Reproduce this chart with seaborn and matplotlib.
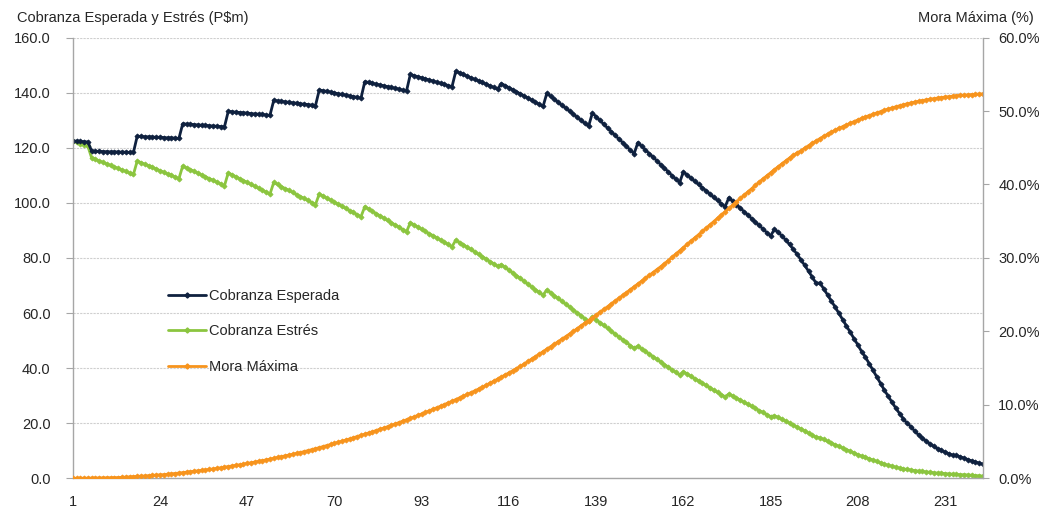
import pandas as pd
import matplotlib
matplotlib.use("Agg")
import matplotlib.pyplot as plt
import seaborn as sns
from matplotlib.lines import Line2D
from matplotlib.ticker import FuncFormatter

# --- DATOS ---
periodos = list(range(1, 242))

cobranza_esperada = [
    122.5, 122.4, 122.3, 122.2, 122.1,
    118.8, 118.7, 118.7, 118.6, 118.6, 118.5, 118.5, 118.5, 118.4, 118.4, 118.3, 118.3,
    124.2, 124.1, 124.0, 124.0, 123.9, 123.8, 123.8, 123.7, 123.6, 123.6, 123.5, 123.4,
    128.7, 128.6, 128.5, 128.4, 128.3, 128.2, 128.1, 128.0, 127.9, 127.8, 127.7, 127.6,
    133.2, 133.1, 132.9, 132.8, 132.7, 132.6, 132.4, 132.3, 132.2, 132.1, 131.9, 131.8,
    137.2, 137.0, 136.8, 136.7, 136.5, 136.3, 136.2, 136.0, 135.8, 135.7, 135.5, 135.3,
    141.0, 140.7, 140.5, 140.2, 139.9, 139.6, 139.4, 139.1, 138.8, 138.6, 138.3, 138.0,
    144.0, 143.7, 143.4, 143.1, 142.8, 142.5, 142.2, 141.9, 141.6, 141.3, 140.9, 140.6,
    146.6, 146.2, 145.8, 145.4, 145.0, 144.6, 144.2, 143.8, 143.4, 143.0, 142.6, 142.2,
    147.8, 147.2, 146.6, 146.0, 145.4, 144.8, 144.3, 143.7, 143.1, 142.5, 141.9, 141.3,
    143.3, 142.6, 141.8, 141.1, 140.3, 139.6, 138.8, 138.1, 137.3, 136.5, 135.8, 135.0,
    139.8, 138.7, 137.6, 136.5, 135.4, 134.4, 133.3, 132.2, 131.1, 130.0, 128.9, 127.8,
    132.6, 131.3, 129.9, 128.6, 127.2, 125.9, 124.5, 123.2, 121.9, 120.5, 119.2, 117.8,
    121.9, 120.6, 119.2, 117.9, 116.6, 115.3, 113.9, 112.6, 111.3, 109.9, 108.6, 107.3,
    111.3, 110.1, 109.0, 107.8, 106.7, 105.5, 104.4, 103.2, 102.0, 100.9, 99.7, 98.6,
    101.9, 100.6, 99.4, 98.1, 96.8, 95.6, 94.3, 93.0, 91.8, 90.5, 89.2, 88.0,
    90.4, 89.3, 88.0, 86.5, 84.9, 83.1, 81.3, 79.3, 77.3, 75.2, 73.0, 70.8,
    70.9, 68.8, 66.6, 64.4, 62.2, 59.9, 57.6, 55.3, 53.0, 50.7, 48.4, 46.0,
    44.0, 41.6, 39.2, 36.8, 34.4, 32.0, 29.8, 27.6, 25.5, 23.5, 21.6, 19.9,
    18.8, 17.1, 15.8, 14.6, 13.5, 12.5, 11.6, 10.8, 10.1, 9.5, 8.9, 8.4,
    8.3, 7.8, 7.3, 6.8, 6.3, 5.9, 5.5, 5.1,
]

cobranza_estres = [
    122.5, 122.0, 121.5, 121.0, 120.5,
    116.3, 115.8, 115.2, 114.7, 114.1, 113.6, 113.0, 112.5, 111.9, 111.4, 110.8, 110.3,
    115.2, 114.6, 114.0, 113.5, 112.9, 112.3, 111.7, 111.1, 110.5, 110.0, 109.4, 108.8,
    113.4, 112.7, 112.1, 111.4, 110.8, 110.1, 109.5, 108.8, 108.2, 107.5, 106.9, 106.2,
    110.9, 110.2, 109.5, 108.8, 108.1, 107.4, 106.7, 106.0, 105.3, 104.6, 103.9, 103.2,
    107.4, 106.7, 105.9, 105.2, 104.5, 103.8, 103.0, 102.3, 101.6, 100.9, 100.1, 99.4,
    103.2, 102.5, 101.7, 101.0, 100.2, 99.5, 98.7, 98.0, 97.2, 96.5, 95.7, 95.0,
    98.6, 97.8, 96.9, 96.1, 95.3, 94.5, 93.6, 92.8, 92.0, 91.2, 90.3, 89.5,
    92.8, 92.0, 91.2, 90.4, 89.6, 88.8, 88.1, 87.3, 86.5, 85.7, 84.9, 84.1,
    86.5, 85.6, 84.8, 83.9, 83.1, 82.2, 81.3, 80.5, 79.6, 78.7, 77.9, 77.0,
    77.6, 76.6, 75.6, 74.6, 73.6, 72.6, 71.5, 70.5, 69.5, 68.5, 67.5, 66.5,
    68.4, 67.4, 66.3, 65.3, 64.2, 63.2, 62.2, 61.1, 60.1, 59.1, 58.0, 57.0,
    58.6, 57.6, 56.5, 55.5, 54.5, 53.4, 52.4, 51.3, 50.3, 49.3, 48.2, 47.2,
    48.0, 47.0, 46.1, 45.1, 44.2, 43.2, 42.3, 41.3, 40.4, 39.4, 38.5, 37.5,
    38.7, 37.9, 37.0, 36.2, 35.4, 34.5, 33.7, 32.9, 32.0, 31.2, 30.4, 29.6,
    30.6, 29.9, 29.1, 28.4, 27.6, 26.9, 26.1, 25.4, 24.6, 23.9, 23.1, 22.4,
    22.7, 22.1, 21.4, 20.7, 20.0, 19.3, 18.6, 17.9, 17.2, 16.4, 15.7, 14.9,
    14.7, 14.1, 13.4, 12.8, 12.2, 11.6, 11.0, 10.4, 9.8, 9.2, 8.6, 8.0,
    7.6, 7.1, 6.6, 6.1, 5.6, 5.1, 4.7, 4.4, 4.0, 3.7, 3.4, 3.2,
    3.0, 2.8, 2.6, 2.5, 2.3, 2.2, 2.0, 1.9, 1.8, 1.7, 1.6, 1.5,
    1.4, 1.3, 1.3, 1.2, 1.1, 1.0, 0.9, 0.8,
]

# mora maxima en %
mora_maxima = [
    0.00, 0.00, 0.01, 0.01, 0.02, 0.03, 0.03, 0.04, 0.05, 0.06, 0.07, 0.08,
    0.10, 0.13, 0.16, 0.19, 0.22, 0.25, 0.28, 0.32, 0.36, 0.40, 0.44, 0.47,
    0.50, 0.55, 0.60, 0.65, 0.71, 0.77, 0.83, 0.89, 0.95, 1.01, 1.07, 1.13,
    1.20, 1.27, 1.35, 1.43, 1.51, 1.59, 1.67, 1.75, 1.84, 1.93, 2.02, 2.11,
    2.20, 2.30, 2.40, 2.50, 2.61, 2.72, 2.83, 2.94, 3.05, 3.16, 3.27, 3.38,
    3.50, 3.63, 3.76, 3.89, 4.03, 4.17, 4.31, 4.45, 4.60, 4.75, 4.90, 5.05,
    5.20, 5.36, 5.52, 5.68, 5.84, 6.00, 6.16, 6.33, 6.50, 6.67, 6.85, 7.02,
    7.20, 7.39, 7.58, 7.77, 7.96, 8.16, 8.36, 8.56, 8.76, 8.97, 9.18, 9.39,
    9.60, 9.82, 10.04, 10.26, 10.49, 10.72, 10.95, 11.18, 11.42, 11.66, 11.90, 12.15,
    12.40, 12.67, 12.94, 13.22, 13.50, 13.78, 14.06, 14.35, 14.64, 14.94, 15.24, 15.55,
    15.90, 16.23, 16.56, 16.90, 17.24, 17.58, 17.92, 18.26, 18.60, 18.95, 19.30, 19.65,
    20.00, 20.37, 20.74, 21.11, 21.48, 21.85, 22.22, 22.60, 22.98, 23.35, 23.73, 24.11,
    24.50, 24.89, 25.28, 25.67, 26.06, 26.45, 26.84, 27.23, 27.62, 28.01, 28.40, 28.80,
    29.20, 29.64, 30.08, 30.52, 30.96, 31.40, 31.84, 32.28, 32.72, 33.16, 33.60, 34.05,
    34.50, 34.95, 35.40, 35.85, 36.30, 36.75, 37.20, 37.65, 38.10, 38.55, 39.00, 39.45,
    39.90, 40.33, 40.76, 41.18, 41.60, 42.01, 42.42, 42.82, 43.22, 43.61, 43.98, 44.30,
    44.60, 44.95, 45.29, 45.62, 45.94, 46.25, 46.55, 46.84, 47.12, 47.39, 47.65, 47.88,
    48.10, 48.34, 48.57, 48.79, 49.00, 49.20, 49.39, 49.57, 49.75, 49.93, 50.10, 50.27,
    50.43, 50.58, 50.72, 50.86, 50.99, 51.11, 51.22, 51.33, 51.43, 51.52, 51.61, 51.69,
    51.77, 51.84, 51.91, 51.97, 52.03, 52.08, 52.13, 52.17, 52.21, 52.25, 52.28, 52.31, 52.34,
]

xtick_labels = [1, 24, 47, 70, 93, 116, 139, 162, 185, 208, 231]
xtick_minor = [12.5, 35.5, 58.5, 81.5, 104.5, 127.5, 150.5, 173.5, 196.5, 219.5]
yticks_left = [0, 20, 40, 60, 80, 100, 120, 140, 160]
yticks_right = [0, 10, 20, 30, 40, 50, 60]

# --- ESTILO ---
NAVY = "#0f213f"
GREEN = "#8bc53f"
ORANGE = "#f7941d"
AXIS = "#a6a6a6"
TXT = "#262626"

sns.set_style("white")
plt.rcParams["font.family"] = ["Liberation Sans", "DejaVu Sans"]
plt.rcParams["font.size"] = 10.5

df = pd.DataFrame({
    "periodo": periodos,
    "esperada": cobranza_esperada,
    "estres": cobranza_estres,
    "mora": mora_maxima,
})

fig, ax = plt.subplots(figsize=(10.48, 5.08), dpi=100)
fig.subplots_adjust(left=0.0694, right=0.938, bottom=0.0585, top=0.926)
ax2 = ax.twinx()

mk = dict(marker="D", markersize=2.6, markeredgewidth=0.6, linewidth=2.0)
sns.lineplot(data=df, x="periodo", y="estres", ax=ax, color=GREEN,
             markeredgecolor=GREEN, legend=False, **mk)
sns.lineplot(data=df, x="periodo", y="esperada", ax=ax, color=NAVY,
             markeredgecolor=NAVY, legend=False, **mk)
sns.lineplot(data=df, x="periodo", y="mora", ax=ax2, color=ORANGE,
             markeredgecolor=ORANGE, legend=False, **mk)

# ejes
ax.set_xlim(1, 241)
ax.set_ylim(0, 160)
ax2.set_ylim(0, 60)
ax.set_xlabel("")
ax.set_ylabel("")
ax2.set_ylabel("")

ax.set_xticks(xtick_labels)
ax.set_xticklabels([str(v) for v in xtick_labels])
ax.set_xticks(xtick_minor, minor=True)
ax.set_yticks(yticks_left)
ax2.set_yticks(yticks_right)
ax.yaxis.set_major_formatter(FuncFormatter(lambda v, p: f"{v:.1f}"))
ax2.yaxis.set_major_formatter(FuncFormatter(lambda v, p: f"{v:.1f}%"))

ax.grid(axis="y", color="#cfcfcf", linewidth=0.8, linestyle=(0, (2, 1)))
ax.set_axisbelow(True)

for a in (ax, ax2):
    a.spines["top"].set_visible(False)
ax.spines["right"].set_visible(False)
ax2.spines["left"].set_visible(False)
ax2.spines["bottom"].set_visible(False)
for s in (ax.spines["left"], ax.spines["bottom"], ax2.spines["right"]):
    s.set_color(AXIS)
    s.set_linewidth(1.0)

ax.tick_params(axis="x", which="both", direction="out", length=5, color=AXIS,
               labelsize=10.5, labelcolor=TXT, pad=7)
ax.tick_params(axis="y", direction="out", length=5, color=AXIS,
               labelsize=10.5, labelcolor=TXT, pad=11)
ax2.tick_params(axis="y", direction="out", length=4, color=AXIS,
                labelsize=10.5, labelcolor=TXT, pad=7)

# titulos de eje
fig.text(17 / 1048, 1 - 18 / 508, r"Cobranza Esperada y Estrés (P\$m)",
         ha="left", va="center", fontsize=10.5, color=TXT)
fig.text(1034 / 1048, 1 - 18 / 508, "Mora Máxima (%)",
         ha="right", va="center", fontsize=10.5, color=TXT)

# leyenda
handles = [
    Line2D([], [], color=NAVY, lw=2, marker="D", markersize=2.6, markeredgecolor=NAVY),
    Line2D([], [], color=GREEN, lw=2, marker="D", markersize=2.6, markeredgecolor=GREEN),
    Line2D([], [], color=ORANGE, lw=2, marker="D", markersize=2.6, markeredgecolor=ORANGE),
]
labels = ["Cobranza Esperada", "Cobranza Estrés", "Mora Máxima"]
leg = fig.legend(handles, labels, loc="upper left", bbox_to_anchor=(168 / 1048, 1 - 289 / 508),
                 frameon=False, handlelength=2.6, handletextpad=0.2, labelspacing=1.47,
                 borderpad=0, borderaxespad=0, numpoints=1, fontsize=10.5)
for t in leg.get_texts():
    t.set_color(TXT)

plt.savefig("out.png", dpi=100)
